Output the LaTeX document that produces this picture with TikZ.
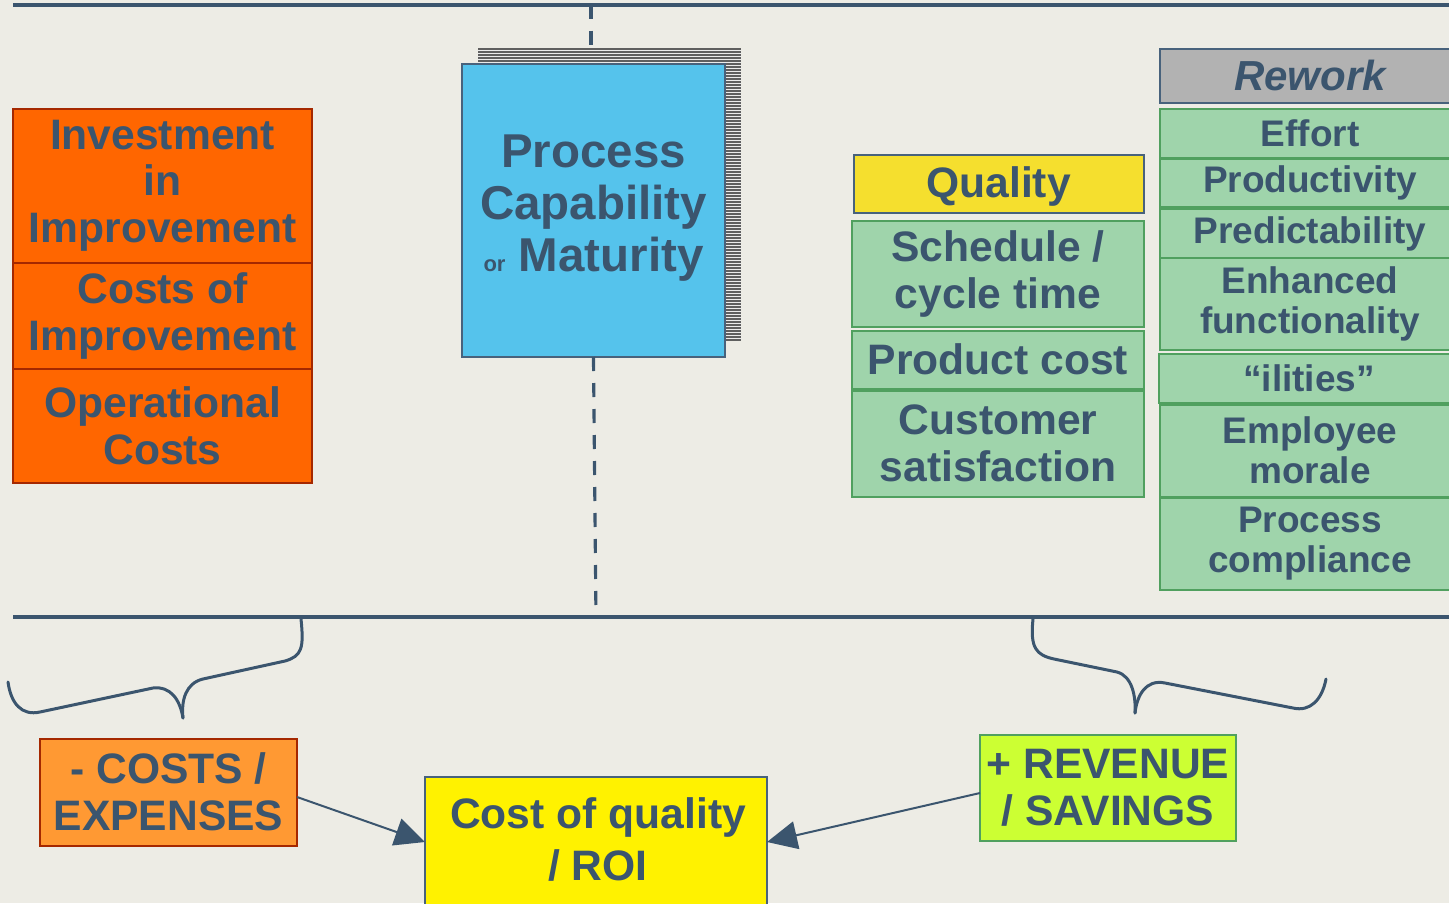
\documentclass[tikz,border=0pt]{standalone}
\usepackage{fontspec}
\setmainfont{Liberation Sans}
\usetikzlibrary{arrows.meta,calc}

\definecolor{paper}{RGB}{237,236,229}
\definecolor{ink}{RGB}{59,85,110}
\definecolor{frame}{RGB}{72,98,124}
\definecolor{orangeA}{RGB}{255,102,0}
\definecolor{orangeB}{RGB}{255,153,51}
\definecolor{redline}{RGB}{165,40,0}
\definecolor{skyblue}{RGB}{85,195,236}
\definecolor{gold}{RGB}{245,223,46}
\definecolor{mint}{RGB}{159,212,171}
\definecolor{greenline}{RGB}{80,160,95}
\definecolor{lime}{RGB}{204,255,51}
\definecolor{greybox}{RGB}{178,178,178}
\definecolor{stripe}{RGB}{95,95,95}

\tikzset{
  every node/.style={inner sep=0pt, outer sep=0pt, text=ink, font=\bfseries},
  box/.style={draw, line width=2pt, align=center},
  costbox/.style={box, fill=orangeA, draw=redline},
  qbox/.style={box, fill=mint, draw=greenline},
  headbox/.style={box, draw=frame},
  rule/.style={draw=ink, line width=4pt},
  dashln/.style={draw=ink, line width=3.2pt, dash pattern=on 14pt off 12pt},
  brace/.style={draw=ink, line width=3pt, line cap=round, line join=round},
  flow/.style={draw=ink, line width=2pt, -{Triangle[length=30pt,width=28pt]}},
  big/.style={font=\bfseries\fontsize{42.6}{46.5}\selectfont},
  mid/.style={font=\bfseries\fontsize{37}{40}\selectfont},
}

\begin{document}
\begin{tikzpicture}[x=1pt,y=-1pt]
\useasboundingbox (0,0) rectangle (1449,903);
\begin{scope}
\clip (0,0) rectangle (1449,903);
\fill[paper] (0,0) rectangle (1449,903);

% horizontal rules
\coordinate (tl) at (13,4.5);
\coordinate (tr) at (1449,4.5);
\coordinate (bl) at (13,616.5);
\coordinate (br) at (1449,616.5);
\draw[rule] (tl) -- (tr);
\draw[rule] (bl) -- (br);

% dashed axis through the centre
\coordinate (topmid) at (591,4.5);
\coordinate (botmid) at (596,616.5);
\draw[dashln] (topmid) -- (591,64);

% stack of pages behind the capability box
\fill[white!92!black] (478,48) rectangle (741,340);
\foreach \k in {0,...,97}
  \draw[stripe, line width=1.8pt] (478,48.9+3*\k) -- (741,48.9+3*\k);

% capability box
\node[headbox, fill=skyblue, minimum width=263pt, minimum height=293pt] (cap) at (593.5,210.5) {};
\node[font=\bfseries\fontsize{47.5}{52}\selectfont, align=center] (captext) at (593.5,208.5)
  {Process\\Capability\\{\fontsize{22}{22}\selectfont or}\ Maturity};
\draw[dashln] (cap.south) -- (botmid);

% cost column
\node[costbox, big, minimum width=299pt, minimum height=154pt] (invest) at (162.5,185.5)
  {Investment\\in\\Improvement};
\node[costbox, big, minimum width=299pt, minimum height=106pt] (impr) at (162.5,316)
  {Costs of\\Improvement};
\node[costbox, big, minimum width=299pt, minimum height=114pt] (oper) at (162.5,426)
  {Operational\\Costs};

% quality column
\node[headbox, fill=gold, minimum width=290pt, minimum height=58pt] (quality) at (998.5,184) {};
\node[big] (qualitytext) at (998.5,186) {Quality};
\node[qbox, big, minimum width=292pt, minimum height=106pt] (sched) at (998,274)
  {Schedule /\\cycle time};
\node[qbox, big, minimum width=292pt, minimum height=58pt] (prod) at (998,359.5)
  {Product cost};
\node[qbox, big, minimum width=292pt, minimum height=106pt] (cust) at (998,443.5)
  {Customer\\satisfaction};

% rework column
\node[headbox, fill=greybox, minimum width=300pt, minimum height=54pt] (rework) at (1310,76) {};
\node[font=\bfseries\itshape\fontsize{42}{46}\selectfont] (reworktext) at (1310,75) {Rework};
\node[qbox, mid, minimum width=300pt, minimum height=49pt] (effort) at (1310,133)
  {Effort};
\node[qbox, mid, minimum width=300pt, minimum height=48pt] (productivity) at (1310,183)
  {Productivity};
\node[qbox, mid, minimum width=300pt, minimum height=49pt] (predict) at (1310,233.5)
  {Predictability};
\node[qbox, mid, minimum width=300pt, minimum height=92pt] (enh) at (1310,304)
  {Enhanced\\functionality};
\node[qbox, mid, minimum width=300pt, minimum height=49pt] (ilities) at (1309,378)
  {“ilities”};
\node[qbox, mid, minimum width=300pt, minimum height=92pt] (morale) at (1310,450.5)
  {Employee\\morale};
\node[qbox, mid, minimum width=300pt, minimum height=92pt] (compl) at (1310,544)
  {Process\\compliance};

% braces gathering each side
\draw[brace] (301,619) .. controls (304,648) and (302,656) .. (285,661)
  -- (203,679) .. controls (186,683) and (181,700) .. (183,718);
\draw[brace] (183,718) .. controls (180,700) and (171,686) .. (153,688)
  -- (40,712) .. controls (22,716) and (11,704) .. (8,682);
\draw[brace] (1033,619) .. controls (1030,648) and (1036,655) .. (1054,659)
  -- (1117,672) .. controls (1132,676) and (1136,696) .. (1135,713);
\draw[brace] (1135,713) .. controls (1137,695) and (1146,679) .. (1165,683)
  -- (1293,708) .. controls (1310,712) and (1322,700) .. (1326,679);

% result boxes
\node[box, big, fill=orangeB, draw=redline, minimum width=257pt, minimum height=107pt] (costs) at (168.5,792)
  {- COSTS /\\EXPENSES};
\node[box, big, fill=lime, draw=greenline, minimum width=256pt, minimum height=106pt] (revenue) at (1108,788)
  {+ REVENUE\\/ SAVINGS};
\node[headbox, fill=yellow, minimum width=342pt, minimum height=130pt] (coq) at (596,842) {};
\node[font=\bfseries\fontsize{42.6}{52}\selectfont, align=center] (coqtext) at (598,839)
  {Cost of quality\\/ ROI};

% flows into the cost of quality
\draw[flow] ($(costs.east)+(0,5)$) -- (coq.west);
\draw[flow] ($(revenue.west)+(0,5)$) -- (coq.east);
\end{scope}
\end{tikzpicture}
\end{document}
